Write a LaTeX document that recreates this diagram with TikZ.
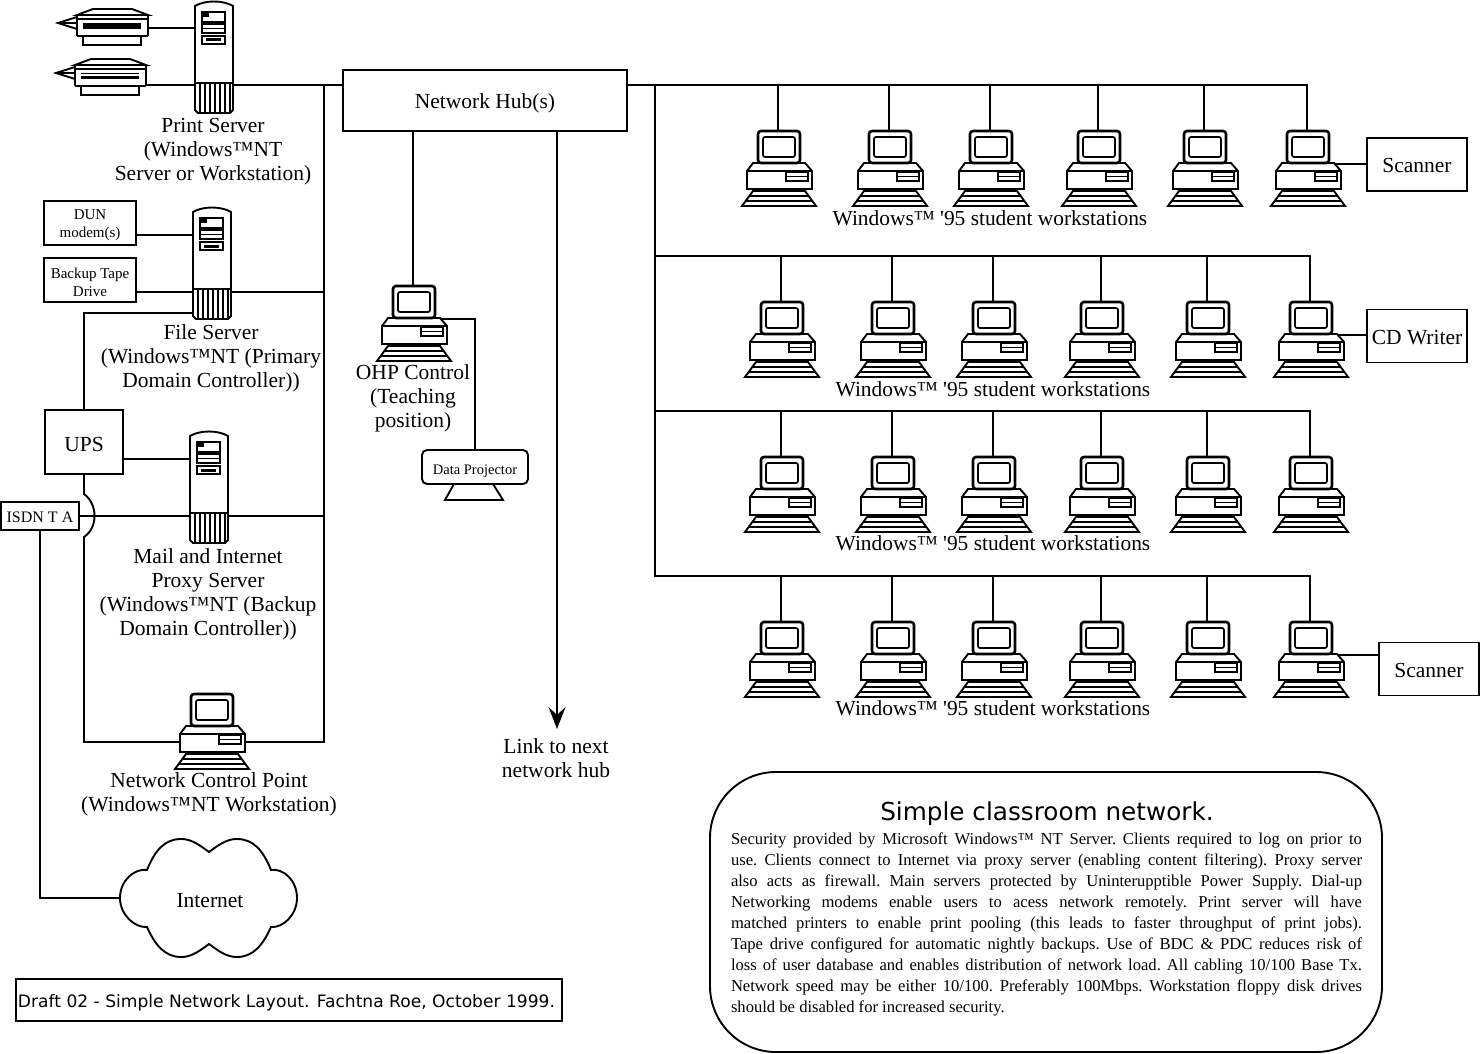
\documentclass[tikz,border=0pt]{standalone}
\usepackage{fontspec}
\setmainfont{Liberation Serif}
\setsansfont{DejaVu Sans}
\usetikzlibrary{arrows.meta,backgrounds}
\tikzset{
	lbl/.style={align=center,inner sep=0pt,font=\fontsize{21.5}{24}\selectfont},
	rowlbl/.style={inner sep=0pt,font=\fontsize{21.4}{24}\selectfont},
	tag/.style={draw,inner sep=0pt,text height=17pt,text depth=1pt,font=\fontsize{21.5}{24}\selectfont},
	smalltag/.style={draw,inner sep=0pt},
	smalltxt/.style={align=center,inner sep=0pt,font=\fontsize{15}{18}\selectfont},
	workstation/.pic={
		\filldraw[fill=white] (-25,33) -- (-31,41) -- (-31,59) -- (34,59) -- (34,41) -- (27,33) -- cycle;
		\draw (-31,41) -- (34,41);
		\filldraw[fill=white,rounded corners=3pt,line width=2.6pt] (-20,33) -- (-20,1) -- (22,1) -- (22,33) -- cycle;
		\draw[rounded corners=2pt,line width=1.7pt] (-15,7) rectangle (17,27);
		\draw[line width=1.6pt] (8,42) rectangle (30,51) (8,46.5) -- (30,46.5);
		\draw (-25,61) -- (27,61) -- (38,76) -- (-36,76) -- cycle;
		\draw[line width=1.5pt] (-29,66) -- (31,66) (-32,71) -- (34,71);
		\coordinate (-top) at (0,0);
		\coordinate (-side) at (26,34);
		\coordinate (-west) at (-31,49);
		\coordinate (-east) at (34,49);
	},
	tower/.pic={
		\filldraw[fill=white] (0,6) .. controls (10,0) and (28,0) .. (38,6) -- (38,110) -- (35,113) -- (3,113) -- (0,110) -- cycle;
		\draw (0,83) -- (38,83);
		\foreach \gx in {5,10,...,35}
			\draw[line width=1.4pt] (\gx,83) -- (\gx,113);
		\draw[line width=1.6pt] (7,12) rectangle (30,22) (7,24) rectangle (30,33) (7,36) rectangle (30,44) (7,28.5) -- (30,28.5);
		\fill (8,13) rectangle (14,17);
		\fill (11,38.5) rectangle (26,41.5);
		\coordinate (-west) at (0,50);
		\coordinate (-east) at (38,50);
	},
	printer/.pic={
		\filldraw[fill=white] (6,21) rectangle (64,30);
		\filldraw[fill=white] (0,2) -- (-19,8) -- (0,14) -- cycle;
		\draw[line width=1.2pt] (-19,8) -- (0,8);
		\filldraw[fill=white] (0,0) -- (16,-6) -- (55,-6) -- (71,0) -- cycle;
		\filldraw[fill=white,rounded corners=1pt] (0,0) rectangle (71,21);
		\draw[line width=1.2pt] (0,4) -- (71,4);
		\fill (6,8) rectangle (64,14);
		\coordinate (-mid) at (71,13);
		\coordinate (-low) at (71,20);
	},
}
\begin{document}
\begin{tikzpicture}[x=1pt,y=-1pt,line width=1.9pt]
	\useasboundingbox (0,0) rectangle (1480,1054);

	\node[tag,minimum width=284pt,minimum height=61pt] (hub) at (485,100.5) {Network Hub(s)};

	\pic (prnA) at (77,15) {printer};
	\pic (prnB) at (75,65) {printer};
	\draw[white,line width=1.2pt] (81,75) -- (139,75);
	\pic (srvP) at (195,0) {tower};
	\node[lbl] (srvPtxt) at (213,152) {Print Server\\(Windows™NT\\Server or Workstation)};

	\node[smalltag,minimum width=92pt,minimum height=44pt] (dun) at (90,223) {};
	\node[smalltxt] (duntxt) at (90,225) {DUN\\modem(s)};
	\node[smalltag,minimum width=92pt,minimum height=44pt] (tape) at (90,280) {};
	\node[smalltxt] (tapetxt) at (90,282) {Backup Tape\\Drive};
	\pic (srvF) at (193,206) {tower};
	\node[lbl] (srvFtxt) at (211,358) {File Server\\(Windows™NT (Primary\\Domain Controller))};

	\node[tag,minimum width=78pt,minimum height=64pt,text height=18pt,text depth=0pt] (ups) at (84,442) {UPS};
	\pic (srvM) at (190,430) {tower};
	\node[lbl] (srvMtxt) at (208,594) {Mail and Internet\\Proxy Server\\(Windows™NT (Backup\\Domain Controller))};
	\node[draw,inner sep=0pt,text height=13pt,text depth=1pt,font=\fontsize{16}{18}\selectfont,minimum width=78pt,minimum height=28pt] (isdn) at (40,516) {ISDN T A};

	\pic (ncp) at (211,693) {workstation};
	\node[lbl] (ncptxt) at (209,794) {Network Control Point\\(Windows™NT Workstation)};

	\filldraw[fill=white] (209,852) .. controls (197,843) and (190,839) .. (181,839) .. controls (165,839) and (155,850) .. (147,870)
		.. controls (135,868) and (120,880) .. (120,898) .. controls (120,915) and (135,928) .. (147,927)
		.. controls (155,945) and (165,957) .. (181,957) .. controls (190,957) and (197,953) .. (209,944)
		.. controls (221,953) and (228,957) .. (237,957) .. controls (253,957) and (263,945) .. (271,927)
		.. controls (283,928) and (297,915) .. (297,898) .. controls (297,880) and (283,868) .. (271,870)
		.. controls (263,850) and (253,839) .. (237,839) .. controls (228,839) and (221,843) .. (209,852) -- cycle;
	\coordinate (cloudw) at (120,898);
	\node[lbl] (internet) at (210,901) {Internet};

	\node[draw,inner sep=0pt,text height=15pt,text depth=1pt,minimum width=546pt,minimum height=42pt,font=\sffamily\fontsize{17.1}{20}\selectfont] (draft) at (289,1000) {Draft 02 - Simple Network Layout. Fachtna Roe, October 1999.\hspace{5pt}\mbox{}};

	\pic (ohp) at (413,285) {workstation};
	\node[lbl] (ohptxt) at (413,398) {OHP Control\\(Teaching\\position)};
	\node[draw,rounded corners=5pt,inner sep=0pt,text height=14pt,text depth=0pt,minimum width=106pt,minimum height=34pt,font=\fontsize{14.5}{16}\selectfont] (proj) at (475,467) {Data Projector};
	\draw (454,484) -- (493,484) -- (503,500) -- (445,500) -- cycle;

	\coordinate (linkend) at (557,729);
	\node[lbl] (linktxt) at (556,758) {Link to next\\network hub};

	\foreach \r/\y/\dx/\ty in {A/130/0/218,B/301/3/389,C/456/3/543,D/621/3/708} {
		\foreach \i/\x in {1/778,2/889,3/990,4/1098,5/1204,6/1307}
			\pic (pc\r\i) at (\x+\dx,\y) {workstation};
		\node[rowlbl] (row\r) at (990+\dx,\ty) {Windows™ \textquotesingle 95 student workstations};
	}

	\node[tag,minimum width=100pt,minimum height=53pt] (scanA) at (1417,164.5) {Scanner};
	\node[tag,minimum width=100pt,minimum height=53pt] (cdw) at (1417,336) {CD Writer};
	\node[tag,minimum width=100pt,minimum height=53pt] (scanD) at (1429,669) {Scanner};

	\node[draw,rounded corners=66pt,minimum width=672pt,minimum height=280pt] (note) at (1046,912) {};
	\node[inner sep=0pt,font=\sffamily\fontsize{24.7}{28}\selectfont] (notehead) at (1047,814) {Simple classroom network.};
	\node[inner sep=0pt,text width=631pt,align=justify,font=\frenchspacing\fontsize{16.6}{21}\selectfont] (notetxt) at (1046.5,924) {Security provided by Microsoft Windows™ NT Server. Clients required to log on prior to\linebreak
		use. Clients connect to Internet via proxy server (enabling content filtering). Proxy server\linebreak
		also acts as firewall. Main servers protected by Uninterupptible Power Supply. Dial-up\linebreak
		Networking modems enable users to acess network remotely. Print server will have\linebreak
		matched printers to enable print pooling (this leads to faster throughput of print jobs).\linebreak
		Tape drive configured for automatic nightly backups. Use of BDC \& PDC reduces risk of\linebreak
		loss of user database and enables distribution of network load. All cabling 10/100 Base Tx.\linebreak
		Network speed may be either 10/100. Preferably 100Mbps. Workstation floppy disk drives\linebreak
		should be disabled for increased security.};

	\begin{scope}[on background layer={line width=1.9pt}]
		\draw (prnA-mid) -- (prnA-mid -| srvP-west);
		\draw (prnB-low) -- (prnB-low -| hub.west);
		\coordinate (ltrunk) at (324,85);
		\coordinate (hubr) at (hub.east |- prnB-low);
		\coordinate (dunr) at (136,235);
		\coordinate (taper) at (136,292);
		\coordinate (srvFlow) at (193,313);
		\coordinate (upsr) at (123,459);
		\coordinate (isdnr) at (79,516);
		\draw (dunr) -- (dunr -| srvF-west);
		\draw (taper) -- (taper -| ltrunk);
		\draw (ups.north) |- (srvFlow);
		\draw (upsr) -- (upsr -| srvM-west);
		\draw (isdnr) -- (isdnr -| ltrunk);
		\draw (ups.south) -- (84,494) .. controls (98,504) and (98,528) .. (84,537) -- (84,742) -- (ncp-west);
		\draw (ltrunk) -- (ltrunk |- ncp-east) -- (ncp-east);
		\draw (isdn.south) |- (cloudw);
		\draw (ohp-top |- hub.south) -- (ohp-top);
		\draw (ohp-side) -| (proj.north);
		\draw[-{Stealth[length=22pt,width=17pt,inset=8pt]}] (linkend |- hub.south) -- (linkend);
		\draw (hubr) -| (pcA6-top);
		\coordinate (trunk) at (655,85);
		\draw (trunk) |- (pcD6-top |- 0,576) -- (pcD6-top);
		\draw (trunk |- 0,256) -| (pcB6-top);
		\draw (trunk |- 0,411) -| (pcC6-top);
		\foreach \i in {1,...,5} {
			\draw (pcA\i-top |- hubr) -- (pcA\i-top);
			\draw (pcB\i-top |- 0,256) -- (pcB\i-top);
			\draw (pcC\i-top |- 0,411) -- (pcC\i-top);
			\draw (pcD\i-top |- 0,576) -- (pcD\i-top);
		}
		\draw (pcA6-side) -- (pcA6-side -| scanA.west);
		\draw (pcB6-side) -- (pcB6-side -| cdw.west);
		\draw (pcD6-side) -- (pcD6-side -| scanD.west);
	\end{scope}
\end{tikzpicture}
\end{document}
